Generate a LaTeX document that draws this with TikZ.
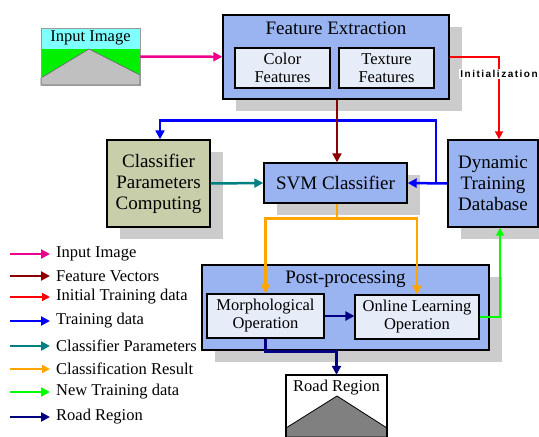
\documentclass[tikz,border=0pt]{standalone}
\usepackage{fontspec}
\setmainfont{Liberation Serif}
\newfontfamily\labelfont[LetterSpace=15]{Liberation Sans}
\usetikzlibrary{arrows.meta,shadows}

\definecolor{stageblue}{RGB}{153,180,240}
\definecolor{partblue}{RGB}{230,236,248}
\definecolor{paramolive}{RGB}{200,206,170}
\definecolor{shadowgray}{RGB}{204,204,204}
\definecolor{skycyan}{RGB}{128,255,255}
\definecolor{grassgreen}{RGB}{0,240,0}
\definecolor{roadgray}{RGB}{192,192,192}
\definecolor{roaddark}{RGB}{128,128,128}
\definecolor{featred}{RGB}{139,0,0}
\definecolor{paramteal}{RGB}{0,128,128}
\definecolor{resultorange}{RGB}{255,165,0}
\definecolor{newgreen}{RGB}{0,255,0}
\definecolor{roadnavy}{RGB}{0,0,128}

\begin{document}
\begin{tikzpicture}[x=1pt,y=-1pt]
			\tikzstyle{big} = [font=\fontsize{19}{21}\selectfont]
			\tikzstyle{small} = [font=\fontsize{16.5}{18}\selectfont]
			\tikzstyle{stage} = [draw, line width=1.4pt, fill=stageblue, inner sep=0pt, align=center, big,
				drop shadow={shadow xshift=13pt, shadow yshift=-12pt, fill=shadowgray, opacity=1}]
			\tikzstyle{part} = [draw, line width=1.2pt, fill=partblue, inner sep=0pt, align=center, small]
			\tikzstyle{legend} = [anchor=west, inner sep=0pt, small]
			\tikzset{edge/.style = {line width=2.5pt, -{Triangle[length=9pt,width=9pt]}}}
			\tikzset{thinedge/.style = {line width=1.8pt, -{Triangle[length=8pt,width=8pt]}}}

			\useasboundingbox (0,0) rectangle (539,437);

			% input picture
			\fill[skycyan] (41,28) rectangle (140,49);
			\fill[grassgreen] (41,49) rectangle (140,85);
			\filldraw[fill=roadgray, draw=black!60, line width=0.6pt] (41,78) -- (89,49) -- (140,75) -- (140,85) -- (41,85) -- cycle;
			\node[draw=black!40, line width=0.8pt, minimum width=99pt, minimum height=57pt, inner sep=0pt] (input) at (90.5,56.5) {};
			\node[small] (inputtitle) at (90.5,38) {Input Image};

			% feature extraction
			\node[stage, minimum width=226pt, minimum height=84pt] (fe) at (336,57) {};
			\node[big] (fetitle) at (336,28) {Feature Extraction};
			\node[part, minimum width=95pt, minimum height=40pt] (color) at (282.5,68) {Color\\Features};
			\node[part, minimum width=95pt, minimum height=40pt] (texture) at (386.5,68) {Texture\\Features};

			% classifier row
			\node[stage, fill=paramolive, minimum width=103pt, minimum height=87pt] (cpc) at (158.5,183.5) {Classifier\\Parameters\\Computing};
			\node[stage, minimum width=143pt, minimum height=40pt] (svm) at (335.5,183) {SVM Classifier};
			\node[stage, minimum width=90pt, minimum height=87pt] (dtd) at (493,183.5) {Dynamic\\Training\\Database};

			% post-processing
			\node[stage, minimum width=287pt, minimum height=85pt] (pp) at (345.5,307.5) {};
			\node[big] (pptitle) at (345.5,279) {Post-processing};
			\node[part, minimum width=117pt, minimum height=44pt] (morph) at (265.5,316) {Morphological\\Operation};
			\node[part, minimum width=124pt, minimum height=44pt] (online) at (417,317) {Online Learning\\Operation};

			% output picture
			\fill[white] (286,375) rectangle (387,437);
			\filldraw[fill=roaddark, draw=black, line width=0.8pt] (286,428) -- (337,396) -- (387,428) -- (387,437) -- (286,437) -- cycle;
			\draw[line width=1.2pt] (286,437) -- (286,375) -- (387,375) -- (387,437);
			\node[inner sep=0pt, minimum width=101pt, minimum height=62pt] (road) at (336.5,406) {};
			\node[small] (roadtitle) at (336.5,388) {Road Region};

			% connectors
			\draw[edge, magenta] (input) -- (fe);
			\draw[thinedge, red] (fe.east) -| ([xshift=6pt]dtd.north);
			\node[fill=white, inner sep=1pt, font=\labelfont\bfseries\fontsize{10}{12}\selectfont] (initlabel) at (499,74) {Initialization};

			\coordinate (tsplit) at (436,183);
			\draw[edge, blue] (dtd.west) -- (svm.east);
			\draw[edge, blue] (tsplit) |- ([xshift=1.5pt, yshift=19pt]cpc.north) -- ([xshift=1.5pt]cpc.north);
			\draw[edge, featred] ([xshift=1pt]fe.south) -- ([xshift=1.5pt]svm.north);
			\draw[edge, paramteal] (cpc.east) -- (svm.west);

			\draw[line width=2.5pt, resultorange] ([xshift=1.5pt]svm.south) -- ([xshift=1.5pt, yshift=-15pt]svm.south) coordinate (rsplit);
			\draw[edge, resultorange] (rsplit) -| (morph.north);
			\draw[edge, resultorange] (rsplit) -| (online.north);

			\draw[edge, roadnavy] (morph.east) -- (morph.east -| online.west);
			\draw[edge, roadnavy] (morph.south) -- ++(0,13) -| (road.north);
			\draw[thinedge, newgreen] (online.east) -| ([xshift=7pt]dtd.south);

			% legend
			\draw[edge, magenta] (10,254) -- (50,254);
			\node[legend] (lginput) at (56,254) {Input Image};
			\draw[edge, featred] (10,276) -- (50,276);
			\node[legend] (lgfeat) at (56,276) {Feature Vectors};
			\draw[thinedge, red] (10,297) -- (50,297);
			\node[legend] (lginit) at (56,297) {Initial Training data};
			\draw[edge, blue] (10,321) -- (50,321);
			\node[legend] (lgtrain) at (56,321) {Training data};
			\draw[edge, paramteal] (10,346) -- (50,346);
			\node[legend] (lgparam) at (56,346) {Classifier Parameters};
			\draw[thinedge, resultorange] (10,369) -- (50,369);
			\node[legend] (lgresult) at (56,369) {Classification Result};
			\draw[edge, newgreen] (10,392) -- (50,392);
			\node[legend] (lgnew) at (56,392) {New Training data};
			\draw[edge, roadnavy] (10,417) -- (50,417);
			\node[legend] (lgroad) at (56,417) {Road Region};
\end{tikzpicture}
\end{document}
